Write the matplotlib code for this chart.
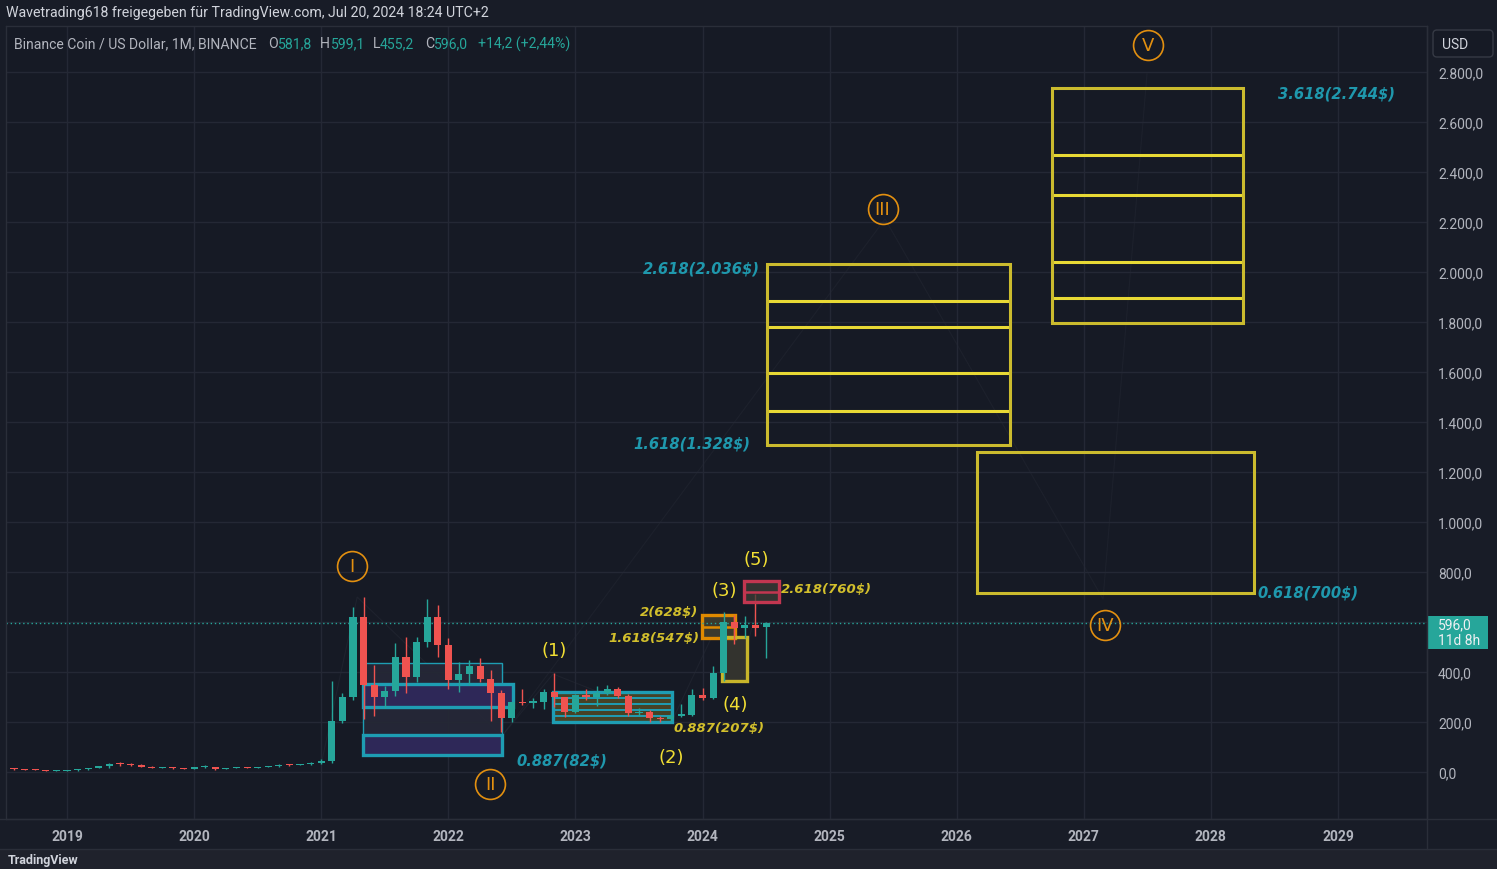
import matplotlib
matplotlib.use("Agg")
import matplotlib.pyplot as plt
from matplotlib.patches import Rectangle, FancyBboxPatch
import numpy as np
import pandas as pd

# ---------------- data ----------------
months = pd.period_range("2018-08", "2024-07", freq="M")

opens = [14.0, 11.2, 10.0, 9.3, 5.6,
         5.9, 6.2, 10.4, 16.9, 22.9, 33.0, 32.5, 28.0, 22.0, 16.5, 20.0, 16.0,
         13.7, 18.5, 20.0, 12.5, 16.8, 17.0, 15.5, 19.8, 23.5, 29.0, 28.0, 30.5,
         37.4, 44.0, 205, 299, 619, 349, 299, 325, 459, 381, 519, 619,
         508, 369, 392, 424, 372, 317, 215, 281, 276, 282, 321, 299,
         241, 308, 300, 316, 332, 306, 236, 242, 215, 213, 226, 228,
         308, 296, 395, 601, 575, 588, 581.8]
highs = [15.0, 11.8, 10.6, 9.6, 6.6,
         7.0, 11.5, 17.8, 25.0, 36.5, 39.5, 35.0, 31.0, 24.0, 21.5, 21.0, 17.0,
         19.5, 27.5, 22.0, 17.5, 18.5, 18.4, 21.5, 25.5, 33.5, 32.5, 34.0, 40.0,
         52.0, 364, 316, 659, 699, 428, 345, 515, 539, 539, 692, 668,
         536, 439, 448, 456, 408, 330, 282, 332, 298, 332, 396, 300,
         312, 332, 343, 349, 340, 312, 258, 248, 225, 236, 272, 332,
         335, 425, 641, 628, 625, 712, 599.1]
lows = [9.6, 8.9, 9.0, 4.9, 4.2,
        4.9, 5.8, 10.0, 16.0, 17.5, 25.4, 22.5, 19.0, 14.5, 15.0, 14.0, 12.5,
        13.0, 17.5, 6.4, 11.5, 15.2, 15.0, 15.0, 19.5, 20.5, 26.0, 27.0, 27.5,
        34.0, 38, 197, 290, 212, 225, 256, 305, 316, 360, 499, 459,
        332, 321, 348, 360, 205, 159, 200, 268, 257, 252, 260, 219,
        236, 290, 265, 308, 298, 225, 225, 201, 201, 203, 220, 225,
        287, 292, 365, 512, 535, 545, 455.2]
closes = [11.2, 10.0, 9.3, 5.6, 6.1,
          6.2, 10.4, 16.9, 22.9, 32.5, 32.5, 28.0, 22.0, 16.5, 20.0, 16.0, 13.7,
          18.5, 20.0, 12.5, 16.8, 17.0, 15.5, 19.8, 23.5, 29.0, 28.0, 30.5, 37.4,
          44.0, 205, 299, 619, 349, 299, 325, 459, 381, 519, 619, 508,
          369, 392, 424, 372, 317, 215, 279, 276, 284, 321, 299, 241,
          308, 300, 316, 332, 303, 236, 242, 215, 213, 226, 232, 308,
          296, 395, 601, 575, 588, 578, 596.0]

year_ticks = list(range(2019, 2030))
price_ticks = list(range(0, 2801, 200))

# ---------------- style ----------------
BG = "#161a25"
GRID = "#242835"
TXT = "#b2b5be"
UP = "#26a69a"
DN = "#ef5350"
TEAL = "#1f98ad"
OLIVE = "#d2bf2c"
YEL = "#f2df33"
ORANGE = "#e39010"
BOXY = "#cbbb2e"
BOXY2 = "#e8d935"

W, H = 1497, 870
fig = plt.figure(figsize=(W / 100, H / 100), dpi=100, facecolor="#181c27")
ax = fig.add_axes([6 / W, 1 - 820 / H, 1421 / W, 793 / H], facecolor=BG)

x = np.array([p.year + (p.month - 1) / 12 for p in months])
o = np.array(opens); hi = np.array(highs); lo = np.array(lows); c = np.array(closes)
col = np.where(c >= o, UP, DN)
ax.vlines(x, lo, hi, colors=col, lw=1.0, zorder=3)
ax.bar(x, np.maximum(np.abs(c - o), 4), bottom=np.minimum(o, c), width=0.056,
       color=col, zorder=3.1, linewidth=0)

ax.set_xlim(2018.52, 2029.70)
ax.set_ylim(-188, 2984)
ax.set_xticks(year_ticks)
ax.set_xticklabels([str(t) for t in year_ticks], fontweight="semibold")
ax.set_yticks(price_ticks)
ax.set_yticklabels([f"{v:,.1f}".replace(",", "X").replace(".", ",").replace("X", ".")
                    for v in price_ticks])
ax.yaxis.tick_right()
ax.tick_params(axis="y", length=0, pad=8, labelcolor=TXT, labelsize=10)
ax.tick_params(axis="x", length=0, pad=7, labelcolor=TXT, labelsize=10)
for lab in ax.get_yticklabels() + ax.get_xticklabels():
    lab.set_family("Roboto")
ax.grid(True, color=GRID, lw=1, zorder=0)
for s in ax.spines.values():
    s.set_color("#2a2e39")
    s.set_linewidth(1)

# faint wave paths
ax.plot([2021.0, 2021.283, 2022.422, 2022.824, 2023.76, 2024.169, 2024.295, 2024.452],
        [32, 700, 144, 392, 204, 644, 372, 720], color="#8a8fa0", alpha=0.07, lw=0.8, zorder=1)
ax.plot([2022.422, 2025.436, 2027.151, 2027.497], [144, 2212, 692, 2792],
        color="#8a8fa0", alpha=0.06, lw=0.8, zorder=1)


def box(x0, x1, y0, y1, ec, fc="none", lw=2.2, lines=(), lc=None, llw=2.2, z=2, alpha=1.0):
    ax.add_patch(Rectangle((x0, y0), x1 - x0, y1 - y0, fc=fc, ec="none", alpha=alpha, zorder=z))
    ax.add_patch(Rectangle((x0, y0), x1 - x0, y1 - y0, fc="none", ec=ec, lw=lw, zorder=z + 0.05))
    for yy in lines:
        ax.plot([x0, x1], [yy, yy], color=lc or ec, lw=llw, zorder=z + 0.04, solid_capstyle="butt")


# Wave III / IV / V target boxes
box(2024.505, 2026.419, 1308, 2032, BOXY, lines=(1444, 1596, 1780, 1884), lc=BOXY2)
box(2026.752, 2028.255, 1795, 2735, BOXY, lines=(1895, 2042, 2309, 2469), lc=BOXY2)
box(2026.162, 2028.339, 716, 1280, BOXY)

# Wave II zone
box(2021.331, 2022.420, 145, 435, "#1e9db3", fc="#262838", lw=1.0, alpha=0.9, z=1.5)
box(2021.331, 2022.511, 259, 352, "#1e9db3", fc="#2e2858", lw=2.4, z=1.6)
box(2021.331, 2022.425, 68, 148, "#1e9db3", fc="#2e2858", lw=2.4, z=1.6)
# Wave (2) zone
box(2022.826, 2023.763, 199, 319, "#1e9db3", fc="#4f4a26", lw=2.4,
    lines=(225, 249, 271, 295), llw=1.4, z=1.7, alpha=0.85)
# (3) orange, (4) yellow, (5) red
box(2023.994, 2024.256, 536, 629, "#e08a00", fc="#3c3a2e", lw=2.4, lines=(582,), llw=1.8, z=1.8)
box(2024.157, 2024.349, 365, 541, "#c8b52a", fc="#33332e", lw=2.4, z=1.8)
box(2024.327, 2024.602, 679, 763, "#c23650", fc="#3d3c36", lw=2.4, lines=(719,), llw=1.8,
    z=4, alpha=0.75)

# current price line
ax.axhline(596, color=UP, lw=1, ls=(0, (1, 2)), zorder=2.5)

# circled wave labels
for lab, xx, yy in [("I", 2021.244, 824), ("II", 2022.33, -48), ("III", 2025.417, 2252),
                    ("IV", 2027.165, 588), ("V", 2027.504, 2908)]:
    ax.plot([xx], [yy], "o", ms=21.5, mfc="none", mec=ORANGE, mew=1.2, zorder=5)
    ax.text(xx, yy, lab, color=ORANGE, fontsize=13, ha="center", va="center",
            family="DejaVu Sans", zorder=5)

for lab, xx, yy in [("(1)", 2022.835, 488), ("(2)", 2023.756, 60), ("(3)", 2024.173, 728),
                    ("(4)", 2024.26, 272), ("(5)", 2024.425, 852)]:
    ax.text(xx, yy, lab, color=YEL, fontsize=13, ha="center", va="center", zorder=5)

fib = dict(fontsize=10.6, fontweight="bold", fontstyle="italic", va="center", zorder=5)
ax.text(2022.533, 48, "0.887(82$)", color=TEAL, ha="left", **fib)
ax.text(2024.452, 2016, "2.618(2.036$)", color=TEAL, ha="right", **fib)
ax.text(2024.374, 1316, "1.618(1.328$)", color=TEAL, ha="right", **fib)
ax.text(2028.363, 720, "0.618(700$)", color=TEAL, ha="left", **fib)
ax.text(2028.528, 2716, "3.618(2.744$)", color=TEAL, ha="left", **fib)
fib2 = dict(fib, fontsize=9.5)
ax.text(2023.965, 640, "2(628$)", color=OLIVE, ha="right", **fib2)
ax.text(2023.973, 536, "1.618(547$)", color=OLIVE, ha="right", **fib2)
ax.text(2023.768, 176, "0.887(207$)", color=OLIVE, ha="left", **fib2)
ax.text(2024.618, 732, "2.618(760$)", color=OLIVE, ha="left", **fib2)

# ---------------- overlay (pixel coords) ----------------
ov = fig.add_axes([0, 0, 1, 1], zorder=10)
ov.set_xlim(0, W); ov.set_ylim(H, 0); ov.axis("off"); ov.patch.set_alpha(0)

ov.plot([1427, 1427], [27, 850], color="#2a2e39", lw=1)
ov.plot([0, W], [820, 820], color="#2a2e39", lw=1)
ov.plot([0, W], [850, 850], color="#2a2e39", lw=1)
ov.add_patch(Rectangle((0, 851), W, 19, fc="#1f222c", ec="none"))
ov.text(8, 861, "TradingView", color="#d1d4dc", fontsize=9, fontweight="bold",
        va="center", ha="left", family="Roboto")

ov.text(6, 13, "Wavetrading618 freigegeben für TradingView.com, Jul 20, 2024 18:24 UTC+2",
        color="#d1d4dc", fontsize=10.2, va="center", ha="left", family="Roboto")
legend_parts = [
    (14, "Binance Coin / US Dollar, 1M, BINANCE", TXT), (268, "O", TXT), (278, "581,8", UP),
    (320, "H", TXT), (331, "599,1", UP), (373, "L", TXT), (380, "455,2", UP),
    (425, "C", TXT), (434, "596,0", UP), (478, "+14,2 (+2,44%)", UP)]
for px, t, cc in legend_parts:
    ov.text(px, 44, t, color=cc, fontsize=10.1, va="center", ha="left", family="Roboto")

ov.add_patch(FancyBboxPatch((1433, 31), 60, 27, boxstyle="round,pad=0,rounding_size=4",
                            fc=BG, ec="#363a45", lw=1))
ov.text(1442, 45, "USD", color="#d1d4dc", fontsize=10, va="center", ha="left", family="Roboto")

ov.add_patch(Rectangle((1427, 617), 61, 33, fc=UP, ec="none"))
ov.text(1438, 625, "596,0", color="#eef0f3", fontsize=10, va="center", ha="left", family="Roboto")
ov.text(1438, 641, "11d 8h", color="#eef0f3", fontsize=10, va="center", ha="left", family="Roboto")

fig.savefig("out.png", dpi=100, facecolor=fig.get_facecolor())
